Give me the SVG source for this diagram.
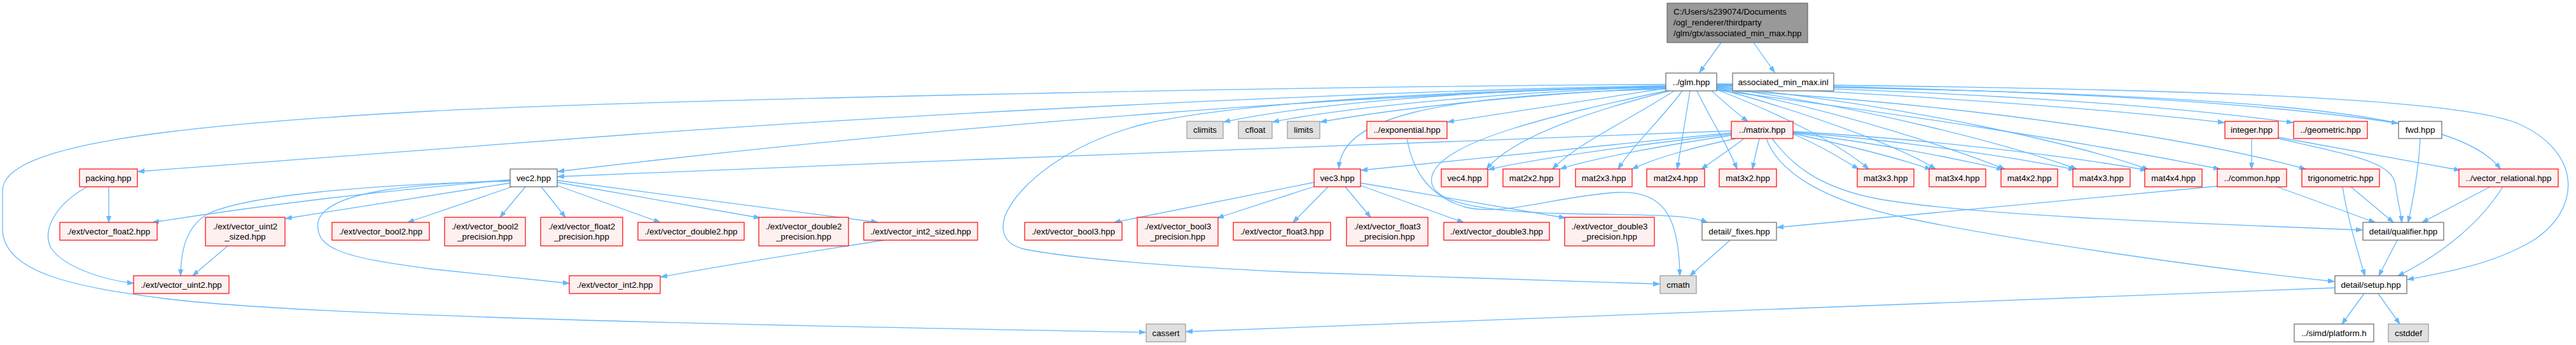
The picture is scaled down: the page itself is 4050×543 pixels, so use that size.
<svg xmlns="http://www.w3.org/2000/svg" width="4050" height="543" viewBox="0 0 4050 543">
<style>
rect{stroke-width:1.2}
.red{fill:#FFF0F0;stroke:#FF0000}
.wht{fill:#FFFFFF;stroke:#666666}
.sys{fill:#E0E0E0;stroke:#999999}
.root{fill:#999999;stroke:#666666}
text{font-family:"Liberation Sans",Arial,Helvetica,sans-serif;font-size:13.33px;fill:#000;text-anchor:middle}
text.l{text-anchor:start}
#edges path{fill:none;stroke:#63B8FF;stroke-width:1.3;marker-end:url(#a)}
</style>
<defs>
<marker id="a" markerWidth="11" markerHeight="8" refX="10" refY="3.5" orient="auto" markerUnits="userSpaceOnUse"><path d="M0,0 L10,3.5 L0,7 z" fill="#63B8FF" stroke="#63B8FF"/></marker>
</defs>
<rect width="4050" height="543" fill="#ffffff"/>
<g id="edges">
<path d="M2706,67 L2672,114"/>
<path d="M2757,67 L2790,114"/>
<path d="M2619,133 C2000,136 1000,158 675,175 C250,198 4,230 4,300 L4,360 C4,430 120,452 260,470 C500,500 1300,514 1801,523"/>
<path d="M2619,135 C2200,142 1500,175 1000,211 L217,270"/>
<path d="M2619,137 C2200,144 1500,195 877,270"/>
<path d="M2722,206 C2300,220 1500,252 877,278"/>
<path d="M2619,136 C2300,142 2050,165 1924,192"/>
<path d="M2619,137 C2350,144 2100,172 2001,192"/>
<path d="M2619,138 C2400,148 2200,170 2076,192"/>
<path d="M2619,139 L2276,192"/>
<path d="M2619,140 C2250,150 2110,185 2105,265"/>
<path d="M2722,209 L2140,268"/>
<path d="M2625,143 C2500,175 2380,215 2337,266"/>
<path d="M2632,143 C2560,190 2480,225 2441,266"/>
<path d="M2645,143 C2610,190 2570,225 2544,266"/>
<path d="M2657,143 L2637,266"/>
<path d="M2668,143 C2690,190 2715,225 2731,266"/>
<path d="M2691,143 C2710,160 2730,178 2748,191"/>
<path d="M2766,218 L2755,266"/>
<path d="M2699,141 C2800,180 2890,225 2938,266"/>
<path d="M2699,139 C2850,180 2990,232 3043,266"/>
<path d="M2699,138 C2900,175 3080,238 3152,266"/>
<path d="M2699,137 C2950,170 3180,235 3265,266"/>
<path d="M2699,136 C3000,165 3280,230 3378,267"/>
<path d="M2819,211 C2860,228 2895,250 2922,266"/>
<path d="M2819,210 C2900,228 2990,250 3036,267"/>
<path d="M2819,209 C2950,225 3080,250 3149,267"/>
<path d="M2819,208 C3000,222 3180,250 3262,267"/>
<path d="M2819,207 C3050,220 3280,250 3375,268"/>
<path d="M2722,211 C2600,225 2420,248 2340,267"/>
<path d="M2722,213 C2620,228 2500,250 2453,266"/>
<path d="M2730,218 C2660,232 2600,250 2566,266"/>
<path d="M2742,218 C2720,235 2695,252 2675,266"/>
<path d="M2786,218 C2810,250 2850,295 2958,314 C3100,338 3400,350 3714,362"/>
<path d="M2777,218 C2795,268 2860,315 3001,344 C3150,375 3450,420 3670,443"/>
<path d="M2699,135 C3000,150 3300,170 3497,193"/>
<path d="M2699,134 C3100,145 3400,165 3605,193"/>
<path d="M2699,133 C3200,140 3550,160 3770,194"/>
<path d="M2699,142 C3000,180 3300,228 3490,266"/>
<path d="M2699,141 C3100,165 3450,218 3625,266"/>
<path d="M2699,134 C3500,148 3860,168 3931,266"/>
<path d="M2699,132 C3300,138 3850,148 3960,195 C4060,240 4060,330 3980,380 C3920,415 3850,428 3785,440"/>
<path d="M3540,218 L3540,266"/>
<path d="M3582,216 L3868,268"/>
<path d="M3582,218 C3700,245 3760,255 3766,290 C3770,320 3775,335 3776,350"/>
<path d="M3805,218 C3803,260 3795,310 3786,350"/>
<path d="M3580,294 L3734,350"/>
<path d="M3487,293 L2794,358"/>
<path d="M3696,294 L3763,350"/>
<path d="M3683,294 C3690,340 3705,390 3718,434"/>
<path d="M3915,294 L3808,350"/>
<path d="M3935,294 C3900,350 3840,400 3770,434"/>
<path d="M3769,378 L3740,434"/>
<path d="M3717,462 L3682,510"/>
<path d="M3739,462 L3773,510"/>
<path d="M3671,453 L1865,522"/>
<path d="M2720,378 L2657,434"/>
<path d="M2619,137 C2300,142 1950,160 1800,195 C1680,225 1600,290 1580,340 C1572,365 1580,385 1610,392 C1700,410 1900,422 2025,428 L2609,447"/>
<path d="M2212,218 C2220,262 2240,305 2300,325 C2360,342 2440,310 2540,303 C2615,298 2640,340 2641,434"/>
<path d="M2619,143 C2450,180 2270,220 2252,275 C2240,312 2300,332 2455,336 C2570,339 2655,336 2684,350"/>
<path d="M802,283 C600,300 400,325 240,350"/>
<path d="M802,285 C600,290 400,305 330,335 C290,355 284,400 284,434"/>
<path d="M802,288 L449,344"/>
<path d="M805,294 L641,350"/>
<path d="M802,284 C650,290 510,300 500,350 C495,392 540,405 675,423 L895,446"/>
<path d="M826,294 L786,342"/>
<path d="M851,294 L889,342"/>
<path d="M876,292 L1038,350"/>
<path d="M876,287 L1195,343"/>
<path d="M876,284 L1380,350"/>
<path d="M1390,378 C1250,400 1150,415 1039,436"/>
<path d="M358,387 L303,434"/>
<path d="M171,294 L171,350"/>
<path d="M137,294 C90,320 65,360 80,390 C100,420 160,440 210,446"/>
<path d="M2066,287 L1752,350"/>
<path d="M2068,293 L1914,343"/>
<path d="M2088,294 L2033,350"/>
<path d="M2115,294 L2155,342"/>
<path d="M2139,292 L2301,350"/>
<path d="M2139,288 L2461,343"/>
</g>
<g id="root"><rect class="root" x="2621" y="5" width="221" height="62"/><text class="l" x="2631" y="23">C:/Users/s239074/Documents</text><text class="l" x="2631" y="40">/ogl_renderer/thirdparty</text><text class="l" x="2631" y="57">/glm/gtx/associated_min_max.hpp</text></g>
<g id="inl"><rect class="wht" x="2724" y="115" width="159" height="28"/><text x="2803.5" y="133.5">associated_min_max.inl</text></g>
<g id="glm"><rect class="wht" x="2619" y="115" width="80" height="28"/><text x="2659" y="133.5">../glm.hpp</text></g>
<g id="climits"><rect class="sys" x="1866" y="191" width="57" height="27"/><text x="1894.5" y="209">climits</text></g>
<g id="cfloat"><rect class="sys" x="1947" y="191" width="53" height="27"/><text x="1973.5" y="209">cfloat</text></g>
<g id="limits"><rect class="sys" x="2024" y="191" width="51" height="27"/><text x="2049.5" y="209">limits</text></g>
<g id="exponential"><rect class="red" x="2149" y="191" width="126" height="27"/><text x="2212" y="209">../exponential.hpp</text></g>
<g id="matrix"><rect class="red" x="2722" y="191" width="97" height="27"/><text x="2770.5" y="209">../matrix.hpp</text></g>
<g id="integer"><rect class="red" x="3498" y="191" width="84" height="27"/><text x="3540" y="209">integer.hpp</text></g>
<g id="geometric"><rect class="red" x="3606" y="191" width="116" height="27"/><text x="3664" y="209">../geometric.hpp</text></g>
<g id="fwd"><rect class="wht" x="3771" y="191" width="68" height="27"/><text x="3805" y="209">fwd.hpp</text></g>
<g id="packing"><rect class="red" x="125" y="266" width="91" height="28"/><text x="170.5" y="284.5">packing.hpp</text></g>
<g id="vec2"><rect class="wht" x="802" y="266" width="74" height="28"/><text x="839" y="284.5">vec2.hpp</text></g>
<g id="vec3"><rect class="red" x="2066" y="266" width="73" height="28"/><text x="2102.5" y="284.5">vec3.hpp</text></g>
<g id="vec4"><rect class="red" x="2266" y="266" width="73" height="28"/><text x="2302.5" y="284.5">vec4.hpp</text></g>
<g id="mat2x2"><rect class="red" x="2363" y="266" width="89" height="28"/><text x="2407.5" y="284.5">mat2x2.hpp</text></g>
<g id="mat2x3"><rect class="red" x="2477" y="266" width="89" height="28"/><text x="2521.5" y="284.5">mat2x3.hpp</text></g>
<g id="mat2x4"><rect class="red" x="2589" y="266" width="91" height="28"/><text x="2634.5" y="284.5">mat2x4.hpp</text></g>
<g id="mat3x2"><rect class="red" x="2703" y="266" width="90" height="28"/><text x="2748" y="284.5">mat3x2.hpp</text></g>
<g id="mat3x3"><rect class="red" x="2920" y="266" width="89" height="28"/><text x="2964.5" y="284.5">mat3x3.hpp</text></g>
<g id="mat3x4"><rect class="red" x="3033" y="266" width="89" height="28"/><text x="3077.5" y="284.5">mat3x4.hpp</text></g>
<g id="mat4x2"><rect class="red" x="3146" y="266" width="89" height="28"/><text x="3190.5" y="284.5">mat4x2.hpp</text></g>
<g id="mat4x3"><rect class="red" x="3259" y="266" width="90" height="28"/><text x="3304" y="284.5">mat4x3.hpp</text></g>
<g id="mat4x4"><rect class="red" x="3372" y="266" width="90" height="28"/><text x="3417" y="284.5">mat4x4.hpp</text></g>
<g id="common"><rect class="red" x="3486" y="266" width="109" height="28"/><text x="3540.5" y="284.5">../common.hpp</text></g>
<g id="trigonometric"><rect class="red" x="3619" y="266" width="122" height="28"/><text x="3680" y="284.5">trigonometric.hpp</text></g>
<g id="vector_relational"><rect class="red" x="3866" y="266" width="156" height="28"/><text x="3944" y="284.5">../vector_relational.hpp</text></g>
<g id="vector_float2"><rect class="red" x="94" y="350" width="153" height="28"/><text x="170.5" y="368.5">./ext/vector_float2.hpp</text></g>
<g id="vector_uint2_sized"><rect class="red" x="323" y="342" width="125" height="45"/><text x="385.5" y="360.5">./ext/vector_uint2</text><text x="385.5" y="377">_sized.hpp</text></g>
<g id="vector_bool2"><rect class="red" x="522" y="350" width="153" height="28"/><text x="598.5" y="368.5">./ext/vector_bool2.hpp</text></g>
<g id="vector_bool2_precision"><rect class="red" x="699" y="342" width="127" height="45"/><text x="762.5" y="360.5">./ext/vector_bool2</text><text x="762.5" y="377">_precision.hpp</text></g>
<g id="vector_float2_precision"><rect class="red" x="850" y="342" width="129" height="45"/><text x="914.5" y="360.5">./ext/vector_float2</text><text x="914.5" y="377">_precision.hpp</text></g>
<g id="vector_double2"><rect class="red" x="1003" y="350" width="167" height="28"/><text x="1086.5" y="368.5">./ext/vector_double2.hpp</text></g>
<g id="vector_double2_precision"><rect class="red" x="1193" y="342" width="141" height="45"/><text x="1263.5" y="360.5">./ext/vector_double2</text><text x="1263.5" y="377">_precision.hpp</text></g>
<g id="vector_int2_sized"><rect class="red" x="1358" y="350" width="179" height="28"/><text x="1447.5" y="368.5">./ext/vector_int2_sized.hpp</text></g>
<g id="vector_bool3"><rect class="red" x="1611" y="350" width="153" height="28"/><text x="1687.5" y="368.5">./ext/vector_bool3.hpp</text></g>
<g id="vector_bool3_precision"><rect class="red" x="1788" y="342" width="127" height="45"/><text x="1851.5" y="360.5">./ext/vector_bool3</text><text x="1851.5" y="377">_precision.hpp</text></g>
<g id="vector_float3"><rect class="red" x="1939" y="350" width="153" height="28"/><text x="2015.5" y="368.5">./ext/vector_float3.hpp</text></g>
<g id="vector_float3_precision"><rect class="red" x="2117" y="342" width="128" height="45"/><text x="2181" y="360.5">./ext/vector_float3</text><text x="2181" y="377">_precision.hpp</text></g>
<g id="vector_double3"><rect class="red" x="2270" y="350" width="166" height="28"/><text x="2353" y="368.5">./ext/vector_double3.hpp</text></g>
<g id="vector_double3_precision"><rect class="red" x="2460" y="342" width="141" height="45"/><text x="2530.5" y="360.5">./ext/vector_double3</text><text x="2530.5" y="377">_precision.hpp</text></g>
<g id="fixes"><rect class="wht" x="2676" y="350" width="117" height="28"/><text x="2734.5" y="368.5">detail/_fixes.hpp</text></g>
<g id="qualifier"><rect class="wht" x="3715" y="350" width="127" height="28"/><text x="3778.5" y="368.5">detail/qualifier.hpp</text></g>
<g id="vector_uint2"><rect class="red" x="210" y="434" width="150" height="28"/><text x="285" y="452.5">./ext/vector_uint2.hpp</text></g>
<g id="vector_int2"><rect class="red" x="895" y="434" width="143" height="28"/><text x="966.5" y="452.5">./ext/vector_int2.hpp</text></g>
<g id="cmath"><rect class="sys" x="2610" y="434" width="57" height="28"/><text x="2638.5" y="452.5">cmath</text></g>
<g id="setup"><rect class="wht" x="3671" y="434" width="113" height="28"/><text x="3727.5" y="452.5">detail/setup.hpp</text></g>
<g id="cassert"><rect class="sys" x="1802" y="510" width="62" height="28"/><text x="1833" y="528.5">cassert</text></g>
<g id="platform"><rect class="wht" x="3607" y="510" width="125" height="28"/><text x="3669.5" y="528.5">../simd/platform.h</text></g>
<g id="cstddef"><rect class="sys" x="3755" y="510" width="63" height="28"/><text x="3786.5" y="528.5">cstddef</text></g>
</svg>
